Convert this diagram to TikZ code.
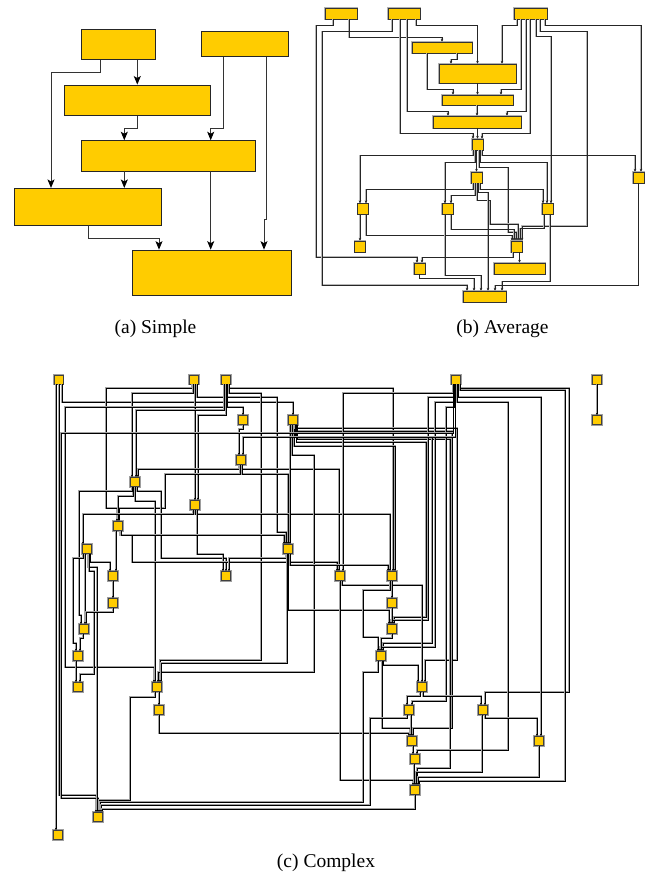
\documentclass[tikz,border=0pt]{standalone}
\usepackage{fontspec}
\setmainfont{Liberation Serif}
\usetikzlibrary{arrows.meta}
\definecolor{gold}{HTML}{FFCC00}
\begin{document}
\begin{tikzpicture}[x=1pt,y=-1pt,
  na/.style={rectangle, draw=black!85, fill=gold, line width=0.8pt, inner sep=0pt},
  nb/.style={rectangle, draw=black!80, fill=gold, line width=0.7pt, inner sep=0pt,
             preaction={draw=black!30, line width=1.6pt}},
  nc/.style={rectangle, draw=black!75, fill=gold, line width=0.6pt, inner sep=0pt,
             minimum width=9pt, minimum height=9pt,
             preaction={draw=black!38, line width=2.4pt}},
  ea/.style={draw=black!80, line width=0.9pt, -{Stealth[length=8.5pt,width=7pt,inset=2pt,color=black]}},
  eb/.style={draw=black!85, line width=0.6pt, -{Stealth[length=2.8pt,width=2.6pt]},
             preaction={draw=black!28, line width=1.4pt, -}},
  ec/.style={draw=black, line width=0.55pt, -{Stealth[length=2.4pt,width=2.3pt]},
             preaction={draw=black!36, line width=1.8pt, -}},
  lab/.style={font=\fontsize{19.5}{23}\selectfont, inner sep=0pt, anchor=base}]
\useasboundingbox (0,0) rectangle (647,876);

% ---------------- (a) simple ----------------
\node[na, minimum width=74pt,    minimum height=30pt]   (A1) at (118.7,44.3) {};
\node[na, minimum width=86.7pt,  minimum height=25pt]   (A2) at (245,44.2) {};
\node[na, minimum width=146.7pt, minimum height=30.7pt] (A3) at (137.3,100.3) {};
\node[na, minimum width=174pt,   minimum height=30.3pt] (A4) at (168.7,155.8) {};
\node[na, minimum width=147.3pt, minimum height=36.7pt] (A5) at (88,206.7) {};
\node[na, minimum width=159pt,   minimum height=45.3pt] (A6) at (212.2,272.7) {};

\draw[ea] (A1.south -| A3.north) -- (A3.north);
\draw[ea] ([xshift=-18.7pt]A1.south) -- ++(0,13) -| ([xshift=-37pt]A5.north);
\draw[ea] (A3.south) -- ++(0,12) -| ([xshift=-44.4pt]A4.north);
\draw[ea] ([xshift=-21.7pt]A2.south) -- ++(0,71) -| ([xshift=42pt]A4.north);
\draw[ea] ([xshift=21.7pt]A2.south) -- ++(0,162.6) -| ([xshift=51.8pt]A6.north);
\draw[ea] ([xshift=-44.4pt]A4.south) -- ([xshift=-44.4pt]A4.south |- A5.north);
\draw[ea] ([xshift=42pt]A4.south) -- ([xshift=42pt]A4.south |- A6.north);
\draw[ea] (A5.south) -- ++(0,13.3) -| ([xshift=-53.2pt]A6.north);

\node[lab] (la) at (155.5,333) {(a) Simple};

% ---------------- (b) average ----------------
\node[nb, minimum width=32pt, minimum height=11pt] (B1)  at (341,13.5) {};
\node[nb, minimum width=32pt, minimum height=11pt] (B2)  at (404,13.5) {};
\node[nb, minimum width=33pt, minimum height=11pt] (B3)  at (530.5,13.5) {};
\node[nb, minimum width=60pt, minimum height=11pt] (B4)  at (442,47.5) {};
\node[nb, minimum width=77pt, minimum height=19pt] (B5)  at (477.5,73.5) {};
\node[nb, minimum width=71pt, minimum height=10pt] (B6)  at (477.5,100) {};
\node[nb, minimum width=88pt, minimum height=12pt] (B7)  at (477,122) {};
\node[nb, minimum width=11pt, minimum height=11pt] (B8)  at (477.5,144.5) {};
\node[nb, minimum width=11pt, minimum height=11pt] (B9)  at (476.5,177.5) {};
\node[nb, minimum width=11pt, minimum height=11pt] (B10) at (638.5,177.5) {};
\node[nb, minimum width=11pt, minimum height=11pt] (B11) at (363,209) {};
\node[nb, minimum width=11pt, minimum height=11pt] (B12) at (447.5,209) {};
\node[nb, minimum width=11pt, minimum height=11pt] (B13) at (547.5,209) {};
\node[nb, minimum width=11pt, minimum height=11pt] (B14) at (360,246.5) {};
\node[nb, minimum width=11pt, minimum height=11pt] (B15) at (516.5,246.5) {};
\node[nb, minimum width=11pt, minimum height=11pt] (B16) at (419.5,268.5) {};
\node[nb, minimum width=51pt, minimum height=11pt] (B17) at (519.5,268.5) {};
\node[nb, minimum width=43pt, minimum height=11pt] (B18) at (484.5,296.5) {};

\draw[eb] ([xshift=-8pt]B1.south) -- ++(0,6) -| (316,257) -| ([xshift=-2.5pt]B16.north);
\draw[eb] ([xshift=8pt]B1.south) -- ++(0,18) -| (B4.north);
\draw[eb] ([xshift=-12pt]B2.south) -- ++(0,12) -| (322,285) -| ([xshift=-17.5pt]B18.north);
\draw[eb] ([xshift=-4pt]B2.south) -- ++(0,114) -| ([xshift=-4.5pt]B8.north);
\draw[eb] ([xshift=3pt]B2.south) -- ++(0,92) -| ([xshift=-29pt]B7.north);
\draw[eb] ([xshift=12pt]B2.south) -- ++(0,6) -| (B5.north);
\draw[eb] ([xshift=-13.5pt]B3.south) -- ++(0,6) -| ([xshift=24.5pt]B5.north);
\draw[eb] ([xshift=-9.5pt]B3.south) -- ++(0,70) -| ([xshift=23.5pt]B6.north);
\draw[eb] ([xshift=-4.5pt]B3.south) -- ++(0,92) -| ([xshift=30pt]B7.north);
\draw[eb] ([xshift=-0.5pt]B3.south) -- ++(0,114) -| ([xshift=4.5pt]B8.north);
\draw[eb] ([xshift=5.5pt]B3.south) -- ++(0,17) -| ([xshift=3.5pt]B13.north);
\draw[eb] ([xshift=9.5pt]B3.south) -- ++(0,12) -| (587,226) -| ([xshift=5.5pt]B15.north);
\draw[eb] ([xshift=14.5pt]B3.south) -- ++(0,6) -| ([xshift=2.5pt]B10.north);
\draw[eb] ([xshift=-15pt]B4.south) -- ++(0,36) -| ([xshift=-24.5pt]B6.north);
\draw[eb] ([xshift=15pt]B4.south) -- ++(0,6) -| ([xshift=-26.5pt]B5.north);
\draw[eb] (B6.north |- B5.south) -- (B6.north);
\draw[eb] (B7.north |- B6.south) -- (B7.north);
\draw[eb] (B8.north |- B7.south) -- (B8.north);
\draw[eb] ([xshift=-4.5pt]B8.south) -- ++(0,5) -| ([xshift=-3pt]B11.north);
\draw[eb] ([xshift=4.5pt]B8.south) -- ++(0,5) -| ([xshift=-3.5pt]B10.north);
\draw[eb] (B9.north |- B8.south) -- (B9.north);
\draw[eb] ([xshift=-2.5pt]B8.south) -- ++(0,12) -| ([xshift=-2.5pt]B12.north);
\draw[eb] ([xshift=2.5pt]B8.south) -- ++(0,12) -| ([xshift=-0.5pt]B13.north);
\draw[eb] ([xshift=1.5pt]B8.south) -- ++(0,17) -| (508,232) -| ([xshift=-0.5pt]B15.north);
\draw[eb] ([xshift=-3.5pt]B9.south) -- ++(0,6) -| ([xshift=3pt]B11.north);
\draw[eb] ([xshift=3.5pt]B9.south) -- ++(0,6) -| ([xshift=-4.5pt]B13.north);
\draw[eb] ([xshift=-1.5pt]B9.south) -- ++(0,12) -| ([xshift=3.5pt]B12.north);
\draw[eb] ([xshift=0.5pt]B9.south) -- ++(0,17) -| (490,224) -| ([xshift=1.5pt]B15.north);
\draw[eb] ([xshift=2pt]B9.south) -- ++(0,9) -| ([xshift=3.5pt]B18.north);
\draw[eb] (B14.north |- B11.south) -- (B14.north);
\draw[eb] ([xshift=3pt]B11.south) -- ++(0,20.5) -| ([xshift=-4.5pt]B15.north);
\draw[eb] ([xshift=3.5pt]B12.south) -- ++(0,14.5) -| ([xshift=-2.5pt]B15.north);
\draw[eb] ([xshift=-2.5pt]B12.south) -- ++(0,60.5) -| ([xshift=-3.5pt]B18.north);
\draw[eb] ([xshift=-3.5pt]B13.south) -- ++(0,13.5) -| ([xshift=3.5pt]B15.north);
\draw[eb] ([xshift=2.5pt]B13.south) -- ++(0,66.5) -| ([xshift=17.5pt]B18.north);
\draw[eb] ([xshift=-3.5pt]B15.south) -- ++(0,5) -| ([xshift=2.5pt]B16.north);
\draw[eb] (B17.north |- B15.south) -- (B17.north);
\draw[eb] (B16.south) -- ++(0,4) -| ([xshift=-10.5pt]B18.north);
\draw[eb] (B10.south) -- ++(0,102) -| ([xshift=10.5pt]B18.north);

\node[lab] (lb) at (502.5,333) {(b) Average};

% ---------------- (c) complex ----------------
\node[nc] (C1)  at (58.5,379.5) {};
\node[nc] (C2)  at (194,379.5) {};
\node[nc] (C3)  at (226,379.5) {};
\node[nc] (C4)  at (243,420) {};
\node[nc] (C5)  at (241,460) {};
\node[nc] (C6)  at (135,482) {};
\node[nc] (C7)  at (195,505) {};
\node[nc] (C8)  at (118,526) {};
\node[nc] (C9)  at (293,420) {};
\node[nc] (C10) at (456,379.5) {};
\node[nc] (C11) at (597,379.5) {};
\node[nc] (C12) at (597,420) {};
\node[nc] (C13) at (87,549) {};
\node[nc] (C14) at (113,576) {};
\node[nc] (C15) at (113,603) {};
\node[nc] (C16) at (84,629) {};
\node[nc] (C17) at (78,656) {};
\node[nc] (C18) at (78,687) {};
\node[nc] (C19) at (226,576) {};
\node[nc] (C20) at (157,687) {};
\node[nc] (C21) at (288,549) {};
\node[nc] (C22) at (340,576) {};
\node[nc] (C23) at (392,576) {};
\node[nc] (C24) at (392,603) {};
\node[nc] (C25) at (392,629) {};
\node[nc] (C26) at (381,656) {};
\node[nc] (C27) at (422,687) {};
\node[nc] (C28) at (159,710) {};
\node[nc] (C29) at (98,817) {};
\node[nc] (C30) at (58,835) {};
\node[nc] (C31) at (409,710) {};
\node[nc] (C32) at (412,741) {};
\node[nc] (C33) at (415,759) {};
\node[nc] (C34) at (415,790) {};
\node[nc] (C35) at (483,710) {};
\node[nc] (C36) at (539,741) {};

% from C1
\draw[ec] ([xshift=-2pt]C30.north |- C1.south) -- ([xshift=-2pt]C30.north);
\draw[ec] ([xshift=0.5pt]C1.south) -- ++(0,411) -| ([xshift=-2pt]C29.north);
\draw[ec] ([xshift=3.5pt]C1.south) -- ++(0,18) -| (C9.north);
% from C2
\draw[ec] ([xshift=-2pt]C2.south) -- ++(0,4) -| (106,508) -| ([xshift=-1pt]C8.north);
\draw[ec] ([xshift=-1pt]C2.south) -- ++(0,9) -| ([xshift=-3pt]C6.north);
\draw[ec] (C7.north |- C2.south) -- (C7.north);
\draw[ec] ([xshift=3pt]C2.south) -- ++(0,13) -| (277,532) -| ([xshift=-2pt]C21.north);
% from C3
\draw[ec] ([xshift=2pt]C3.south) -- ++(0,4) -| ([xshift=1pt]C23.north);
\draw[ec] ([xshift=3pt]C3.south) -- ++(0,9) -| (261,660) -| ([xshift=3pt]C20.north);
\draw[ec] ([xshift=1pt]C3.south) -- ++(0,23) -| (C4.north);
\draw[ec] ([xshift=-1pt]C3.south) -- ++(0,23) -| (65,667) -| ([xshift=-3pt]C20.north);
\draw[ec] ([xshift=-2pt]C3.south) -- ++(0,26) -| ([xshift=1pt]C6.north);
\draw[ec] (C3.south) -- ++(0,31) -| ([xshift=3pt]C7.north);
% from C4, C5
\draw[ec] (C4.south) -- ++(0,4) -| ([xshift=-2pt]C5.north);
\draw[ec] ([xshift=-2pt]C5.south) -- ++(0,4) -| ([xshift=3pt]C6.north);
\draw[ec] (C5.south) -- ++(0,4) -| ([xshift=-1pt]C22.north);
\draw[ec] ([xshift=-1pt]C5.south) -- ++(0,9) -| (165,508) -| ([xshift=1pt]C8.north);
\draw[ec] ([xshift=1pt]C5.south) -- ++(0,9) -| (C21.north);
% from C6
\draw[ec] ([xshift=-2pt]C6.south) -- ++(0,9) -| (C8.north);
\draw[ec] (C6.south) -- ++(0,14) -| ([xshift=-2pt]C20.north);
\draw[ec] ([xshift=-3pt]C6.south) -- ++(0,4.5) -| (79,615) -| ([xshift=-3pt]C16.north);
\draw[ec] ([xshift=2pt]C6.south) -- ++(0,4.5) -| (161,558) -| (C19.north);
% from C7
\draw[ec] ([xshift=-2pt]C7.south) -- ++(0,4) -| ([xshift=-4pt]C13.north);
\draw[ec] (C7.south) -- ++(0,4) -| ([xshift=-2pt]C23.north);
\draw[ec] ([xshift=2pt]C7.south) -- ++(0,44) -| ([xshift=-3pt]C19.north);
% from C8
\draw[ec] ([xshift=3pt]C14.north |- C8.south) -- ([xshift=3pt]C14.north);
\draw[ec] ([xshift=2pt]C8.south) -- ++(0,4.5) -| ([xshift=-4pt]C21.north);
\draw[ec] ([xshift=3pt]C8.south) -- ++(0,4.5) -| (132,562) -| ([xshift=-3pt]C22.north);
% from C9
\draw[ec] ([xshift=2pt]C21.north |- C9.south) -- ([xshift=2pt]C21.north);
\draw[ec] ([xshift=-1pt]C9.south) -- ++(0,30.5) -| (314,672) -| ([xshift=1pt]C20.north);
\draw[ec] ([xshift=1pt]C9.south) -- ++(0,21.5) -| ([xshift=3pt]C23.north);
\draw[ec] ([xshift=2pt]C9.south) -- ++(0,3.5) -| (457,660) -| ([xshift=3pt]C27.north);
\draw[ec] ([xshift=3pt]C9.south) -- ++(0,6) -| (452,728) -| ([xshift=1pt]C32.north);
\draw[ec] ([xshift=4pt]C9.south) -- ++(0,14) -| (450,768) -| ([xshift=2pt]C34.north);
\draw[ec] ([xshift=2.5pt]C9.south) -- ++(0,12.5) -| (432,643) -| ([xshift=2pt]C26.north);
\draw[ec] ([xshift=3.5pt]C9.south) -- ++(0,17.5) -| (426,617) -| ([xshift=2pt]C25.north);
% from C10
\draw[ec] ([xshift=3pt]C10.south) -- ++(0,4) -| (569,692) -| ([xshift=2pt]C35.north);
\draw[ec] ([xshift=4pt]C10.south) -- ++(0,6) -| (565,781) -| ([xshift=4pt]C34.north);
\draw[ec] ([xshift=-3pt]C10.south) -- ++(0,9) -| ([xshift=3pt]C22.north);
\draw[ec] ([xshift=2pt]C10.south) -- ++(0,13) -| ([xshift=2pt]C36.north);
\draw[ec] ([xshift=-2pt]C10.south) -- ++(0,13) -| (428,620) -| ([xshift=-1pt]C25.north);
\draw[ec] ([xshift=1pt]C10.south) -- ++(0,18) -| (508,750) -| ([xshift=2pt]C33.north);
\draw[ec] ([xshift=-1pt]C10.south) -- ++(0,18) -| (435,647) -| ([xshift=-1pt]C26.north);
\draw[ec] ([xshift=-1.5pt]C10.south) -- ++(0,23) -| (446,701) -| ([xshift=3pt]C31.north);
\draw[ec] ([xshift=-2.5pt]C10.south) -- ++(0,49) -| (61,798) -| (C29.north);
\draw[ec] ([xshift=-0.5pt]C10.south) -- ++(0,53) -| ([xshift=2pt]C5.north);
% C11
\draw[ec] (C12.north |- C11.south) -- (C12.north);
% from C13 .. C17
\draw[ec] ([xshift=-4pt]C13.south) -- ++(0,4.5) -| (73,643) -| ([xshift=-2pt]C17.north);
\draw[ec] ([xshift=3pt]C13.south) -- ++(0,8.5) -| ([xshift=-3pt]C14.north);
\draw[ec] ([xshift=1pt]C16.north |- C13.south) -- ([xshift=1pt]C16.north);
\draw[ec] ([xshift=1pt]C13.south) -- ++(0,13.5) -| ([xshift=-1pt]C29.north);
\draw[ec] ([xshift=2pt]C13.south) -- ++(0,17) -| (94,674) -| ([xshift=2pt]C18.north);
\draw[ec] (C15.north |- C14.south) -- (C15.north);
\draw[ec] (C15.south) -- ++(0,4) -| ([xshift=2pt]C16.north);
\draw[ec] ([xshift=-1pt]C16.south) -- ++(0,4) -| ([xshift=2pt]C17.north);
\draw[ec] ([xshift=-2pt]C18.north |- C17.south) -- ([xshift=-2pt]C18.north);
% from C20, C28
\draw[ec] (C28.north |- C20.south) -- (C28.north);
\draw[ec] ([xshift=-2pt]C20.south) -- ++(0,5) -| (130,800) -| ([xshift=1pt]C29.north);
\draw[ec] (C28.south) -- ++(0,18) -| ([xshift=-3pt]C32.north);
% from C21
\draw[ec] ([xshift=-2pt]C21.south) -- ++(0,4) -| ([xshift=3pt]C19.north);
\draw[ec] ([xshift=2pt]C21.south) -- ++(0,11.5) -| ([xshift=-4pt]C23.north);
\draw[ec] (C21.south) -- ++(0,56.5) -| ([xshift=-3pt]C25.north);
\draw[ec] ([xshift=-1pt]C21.south) -- ++(0,109.5) -| ([xshift=4pt]C20.north);
% from C22 .. C27
\draw[ec] (C22.south) -- ++(0,199.5) -| ([xshift=-2pt]C34.north);
\draw[ec] ([xshift=2pt]C22.south) -- ++(0,4.5) -| (C27.north);
\draw[ec] (C24.north |- C23.south) -- (C24.north);
\draw[ec] ([xshift=-2pt]C23.south) -- ++(0,9.5) -| (363,637) -| ([xshift=-3pt]C26.north);
\draw[ec] (C25.north |- C24.south) -- (C25.north);
\draw[ec] (C25.south) -- ++(0,4) -| (C26.north);
\draw[ec] ([xshift=2pt]C26.south) -- ++(0,4.5) -| ([xshift=-4pt]C27.north);
\draw[ec] ([xshift=-3pt]C26.south) -- ++(0,11.5) -| (363,802) -| ([xshift=2pt]C29.north);
\draw[ec] ([xshift=1pt]C26.south) -- ++(0,67.5) -| ([xshift=-2pt]C32.north);
\draw[ec] ([xshift=-2pt]C27.south) -- ++(0,4.5) -| ([xshift=-2pt]C31.north);
\draw[ec] ([xshift=1pt]C27.south) -- ++(0,4.5) -| ([xshift=-2pt]C35.north);
% from C31 .. C36
\draw[ec] ([xshift=-2pt]C31.south) -- ++(0,3.5) -| (370,805) -| ([xshift=3pt]C29.north);
\draw[ec] ([xshift=2pt]C31.south) -- ([xshift=2pt]C31.south |- C32.north);
\draw[ec] ([xshift=-2pt]C33.north |- C32.south) -- ([xshift=-2pt]C33.north);
\draw[ec] ([xshift=-1pt]C34.north |- C33.south) -- ([xshift=-1pt]C34.north);
\draw[ec] (C34.south) -- ++(0,14.5) -| ([xshift=4pt]C29.north);
\draw[ec] ([xshift=2pt]C35.south) -- ++(0,3.5) -| ([xshift=-2pt]C36.north);
\draw[ec] ([xshift=-1pt]C35.south) -- ++(0,57.5) -| ([xshift=1pt]C34.north);
\draw[ec] (C36.south) -- ++(0,31.5) -| ([xshift=3pt]C34.north);

\node[lab] (lc) at (326,867) {(c) Complex};
\end{tikzpicture}
\end{document}
